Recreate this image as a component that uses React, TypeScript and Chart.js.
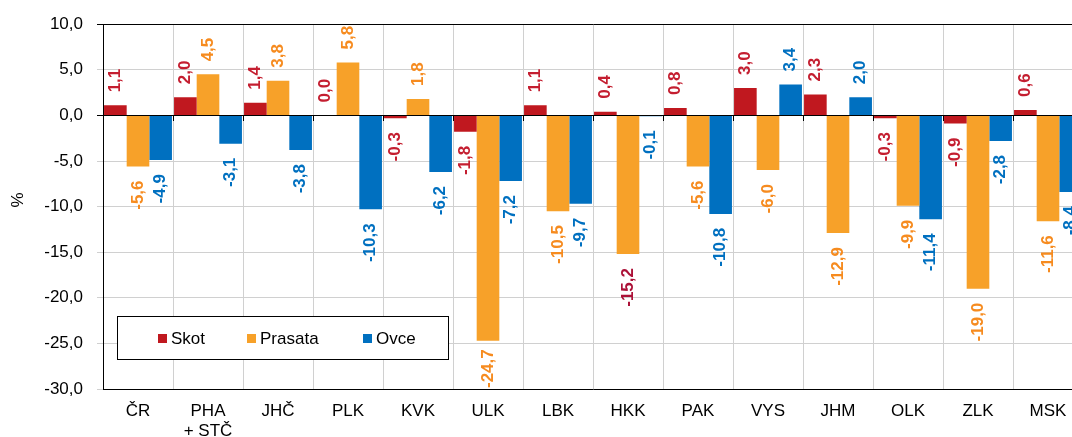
import React, { useEffect, useRef } from "react";
import { Chart, registerables } from "chart.js";

Chart.register(...registerables);

const categories: (string | string[])[] = [
  "ČR", ["PHA", "+ STČ"], "JHČ", "PLK", "KVK", "ULK", "LBK", "HKK", "PAK", "VYS", "JHM", "OLK", "ZLK", "MSK",
];
const seriesNames = ["Skot", "Prasata", "Ovce"];
const skot = [1.1, 2.0, 1.4, 0.0, -0.3, -1.8, 1.1, 0.4, 0.8, 3.0, 2.3, -0.3, -0.9, 0.6];
const prasata = [-5.6, 4.5, 3.8, 5.8, 1.8, -24.7, -10.5, -15.2, -5.6, -6.0, -12.9, -9.9, -19.0, -11.6];
const ovce = [-4.9, -3.1, -3.8, -10.3, -6.2, -7.2, -9.7, -0.1, -10.8, 3.4, 2.0, -11.4, -2.8, -8.4];
const yTicks = [10, 5, 0, -5, -10, -15, -20, -25, -30];

const barColors = ["#C0181F", "#F7A129", "#0070C0"];
const labelColors = ["#C41E30", "#F68B1F", "#0070C0"];
const FONT = "'Liberation Sans', Arial, sans-serif";

const fmt = (v: number) => v.toFixed(1).replace(".", ",");

const labelsPlugin = {
  id: "customLabels",
  afterDatasetsDraw(chart: any) {
    const ctx = chart.ctx;
    const area = chart.chartArea;
    const yScale = chart.scales.y;
    const zeroY = yScale.getPixelForValue(0);
    ctx.save();
    ctx.strokeStyle = "#000";
    ctx.lineWidth = 1;
    ctx.beginPath();
    ctx.moveTo(area.left, Math.round(zeroY) + 0.5);
    ctx.lineTo(area.right, Math.round(zeroY) + 0.5);
    ctx.stroke();
    const n = categories.length;
    const w = (area.right - area.left) / n;
    ctx.beginPath();
    for (let k = 1; k < n; k++) {
      const x = Math.round(area.left + k * w) + 0.5;
      ctx.moveTo(x, Math.round(zeroY));
      ctx.lineTo(x, Math.round(zeroY) + 6);
    }
    ctx.stroke();
    ctx.font = `bold 17px ${FONT}`;
    ctx.textBaseline = "middle";
    chart.data.datasets.forEach((ds: any, di: number) => {
      const meta = chart.getDatasetMeta(di);
      meta.data.forEach((bar: any, i: number) => {
        const v = ds.data[i];
        const text = fmt(v);
        let color = labelColors[di];
        if (di === 1 && categories[i] === "HKK") color = "#AC1238";
        ctx.fillStyle = color;
        ctx.save();
        const end = yScale.getPixelForValue(v);
        const tw = ctx.measureText(text).width;
        if (v >= 0) {
          let a = end - 13;
          if (a - tw < area.top) a = area.top + tw;
          ctx.translate(bar.x, a);
          ctx.rotate(-Math.PI / 2);
          ctx.textAlign = "left";
        } else {
          let a = end + 14;
          if (a + tw > area.bottom - 1) a = area.bottom - 1 - tw;
          ctx.translate(bar.x, a);
          ctx.rotate(-Math.PI / 2);
          ctx.textAlign = "right";
        }
        ctx.fillText(text, 0, 0);
        ctx.restore();
      });
    });
    ctx.restore();
  },
  afterDraw(chart: any) {
    const ctx = chart.ctx;
    ctx.save();
    ctx.fillStyle = "#000";
    ctx.font = `17px ${FONT}`;
    ctx.translate(18, 200);
    ctx.rotate(-Math.PI / 2);
    ctx.textAlign = "center";
    ctx.textBaseline = "middle";
    ctx.fillText("%", 0, 0);
    ctx.restore();
    ctx.save();
    ctx.fillStyle = "#fff";
    ctx.fillRect(117.5, 316.5, 331, 43);
    ctx.strokeStyle = "#000";
    ctx.lineWidth = 1;
    ctx.strokeRect(117.5, 316.5, 331, 43);
    const sq = [158, 247, 363];
    ctx.font = `17px ${FONT}`;
    ctx.textBaseline = "middle";
    ctx.textAlign = "left";
    seriesNames.forEach((name, i) => {
      ctx.fillStyle = barColors[i];
      ctx.fillRect(sq[i], 334, 9, 9);
      ctx.fillStyle = "#000";
      ctx.fillText(name, sq[i] + 13, 339);
    });
    ctx.restore();
  },
};

export default function App() {
  const ref = useRef<HTMLCanvasElement | null>(null);
  useEffect(() => {
    if (!ref.current) return;
    const chart = new Chart(ref.current, {
      type: "bar",
      data: {
        labels: categories,
        datasets: [skot, prasata, ovce].map((d, i) => ({
          label: seriesNames[i],
          data: d,
          backgroundColor: barColors[i],
          borderWidth: 0,
          barPercentage: 1,
          categoryPercentage: 0.97,
        })),
      },
      options: {
        animation: false,
        responsive: false,
        events: [],
        layout: { padding: { left: 0, right: 17, top: 20, bottom: 0 } },
        plugins: { legend: { display: false }, tooltip: { enabled: false } },
        scales: {
          x: {
            offset: true,
            grid: { color: "#D0D0D0", offset: true, drawTicks: false, lineWidth: 1 },
            border: { color: "#000", width: 1 },
            ticks: { color: "#000", font: { family: FONT, size: 17, lineHeight: 1.18 }, padding: 12, maxRotation: 0, autoSkip: false },
            afterFit: (s: any) => { s.height = 48; },
          },
          y: {
            min: -30,
            max: 10,
            afterBuildTicks: (s: any) => { s.ticks = yTicks.map((v) => ({ value: v })); },
            grid: {
              color: (c: any) => (c.tick && (c.tick.value === 0 || c.tick.value === 10) ? "#000" : "#D0D0D0"),
              tickLength: 6,
              drawTicks: true,
            },
            border: { color: "#000", width: 1 },
            ticks: { color: "#000", font: { family: FONT, size: 17 }, padding: 14, callback: (v: any) => fmt(Number(v)) },
            afterFit: (s: any) => { s.width = 103; },
          },
        },
      },
      plugins: [labelsPlugin],
    });
    return () => chart.destroy();
  }, []);
  return (
    <div style={{ position: "fixed", left: 0, top: 0, width: 1072, height: 437, overflow: "hidden", background: "#fff" }}>
      <canvas ref={ref} width={1100} height={437} style={{ width: 1100, height: 437, display: "block" }} />
    </div>
  );
}
